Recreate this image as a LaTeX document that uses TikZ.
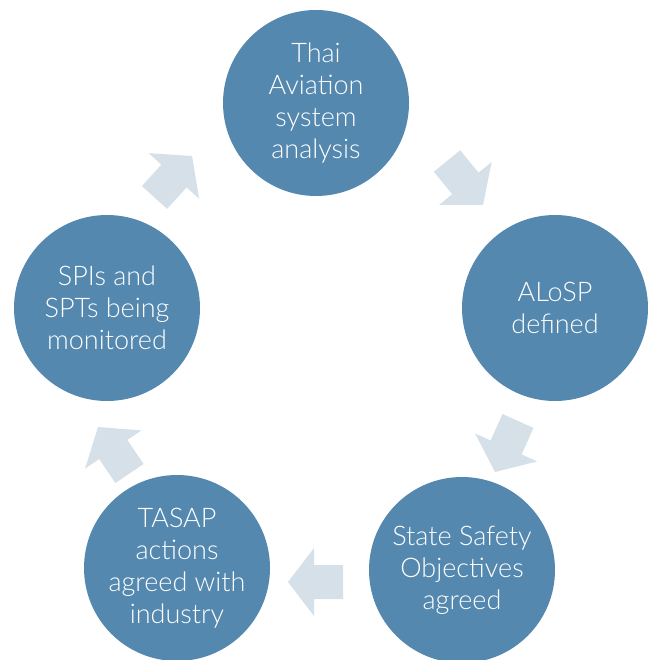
\documentclass[tikz,border=0pt]{standalone}
\usepackage{fontspec}
\setmainfont{Lato}[UprightFont={* Light}]
\usetikzlibrary{calc}
\definecolor{circblue}{RGB}{84,136,175}
\definecolor{arrowgrey}{RGB}{214,224,232}
\tikzset{
  stage/.style={circle, fill=circblue, minimum size=186pt, inner sep=0pt,
    text=white, align=center, font=\fontsize{27}{32}\selectfont},
}
\newcommand{\blockarrow}[2]{%
  \fill[arrowgrey]
    ($(#1)!17pt!90:(#2)$) --
    ($($(#1)!29pt!(#2)$)!17pt!90:(#2)$) --
    ($($(#1)!29pt!(#2)$)!34pt!90:(#2)$) --
    (#2) --
    ($($(#1)!29pt!(#2)$)!34pt!-90:(#2)$) --
    ($($(#1)!29pt!(#2)$)!17pt!-90:(#2)$) --
    ($(#1)!17pt!-90:(#2)$) -- cycle;}
\begin{document}
\begin{tikzpicture}[x=1pt,y=-1pt]
\useasboundingbox (0,0) rectangle (654,660);
\node[stage] (thai) at (316,103) {Thai\\Aviation\\system\\analysis};
\node[stage] (alosp) at (555,308) {ALoSP\\defined};
\node[stage] (sso) at (462,570) {State Safety\\Objectives\\agreed};
\node[stage] (tasap) at (177,568) {TASAP\\actions\\agreed with\\industry};
\node[stage] (spi) at (107,308) {SPIs and\\SPTs being\\monitored};
% arrow end points
\coordinate (a1t) at (447,161); \coordinate (a1h) at (483,205);
\coordinate (a2t) at (518,421); \coordinate (a2h) at (495,472);
\coordinate (a3t) at (343,582); \coordinate (a3h) at (288,582);
\coordinate (a4t) at (129.5,473.5); \coordinate (a4h) at (98,427);
\coordinate (a5t) at (154.5,197.5); \coordinate (a5h) at (192,156);
\blockarrow{a1t}{a1h}
\blockarrow{a2t}{a2h}
\blockarrow{a3t}{a3h}
\blockarrow{a4t}{a4h}
\blockarrow{a5t}{a5h}
\end{tikzpicture}
\end{document}
